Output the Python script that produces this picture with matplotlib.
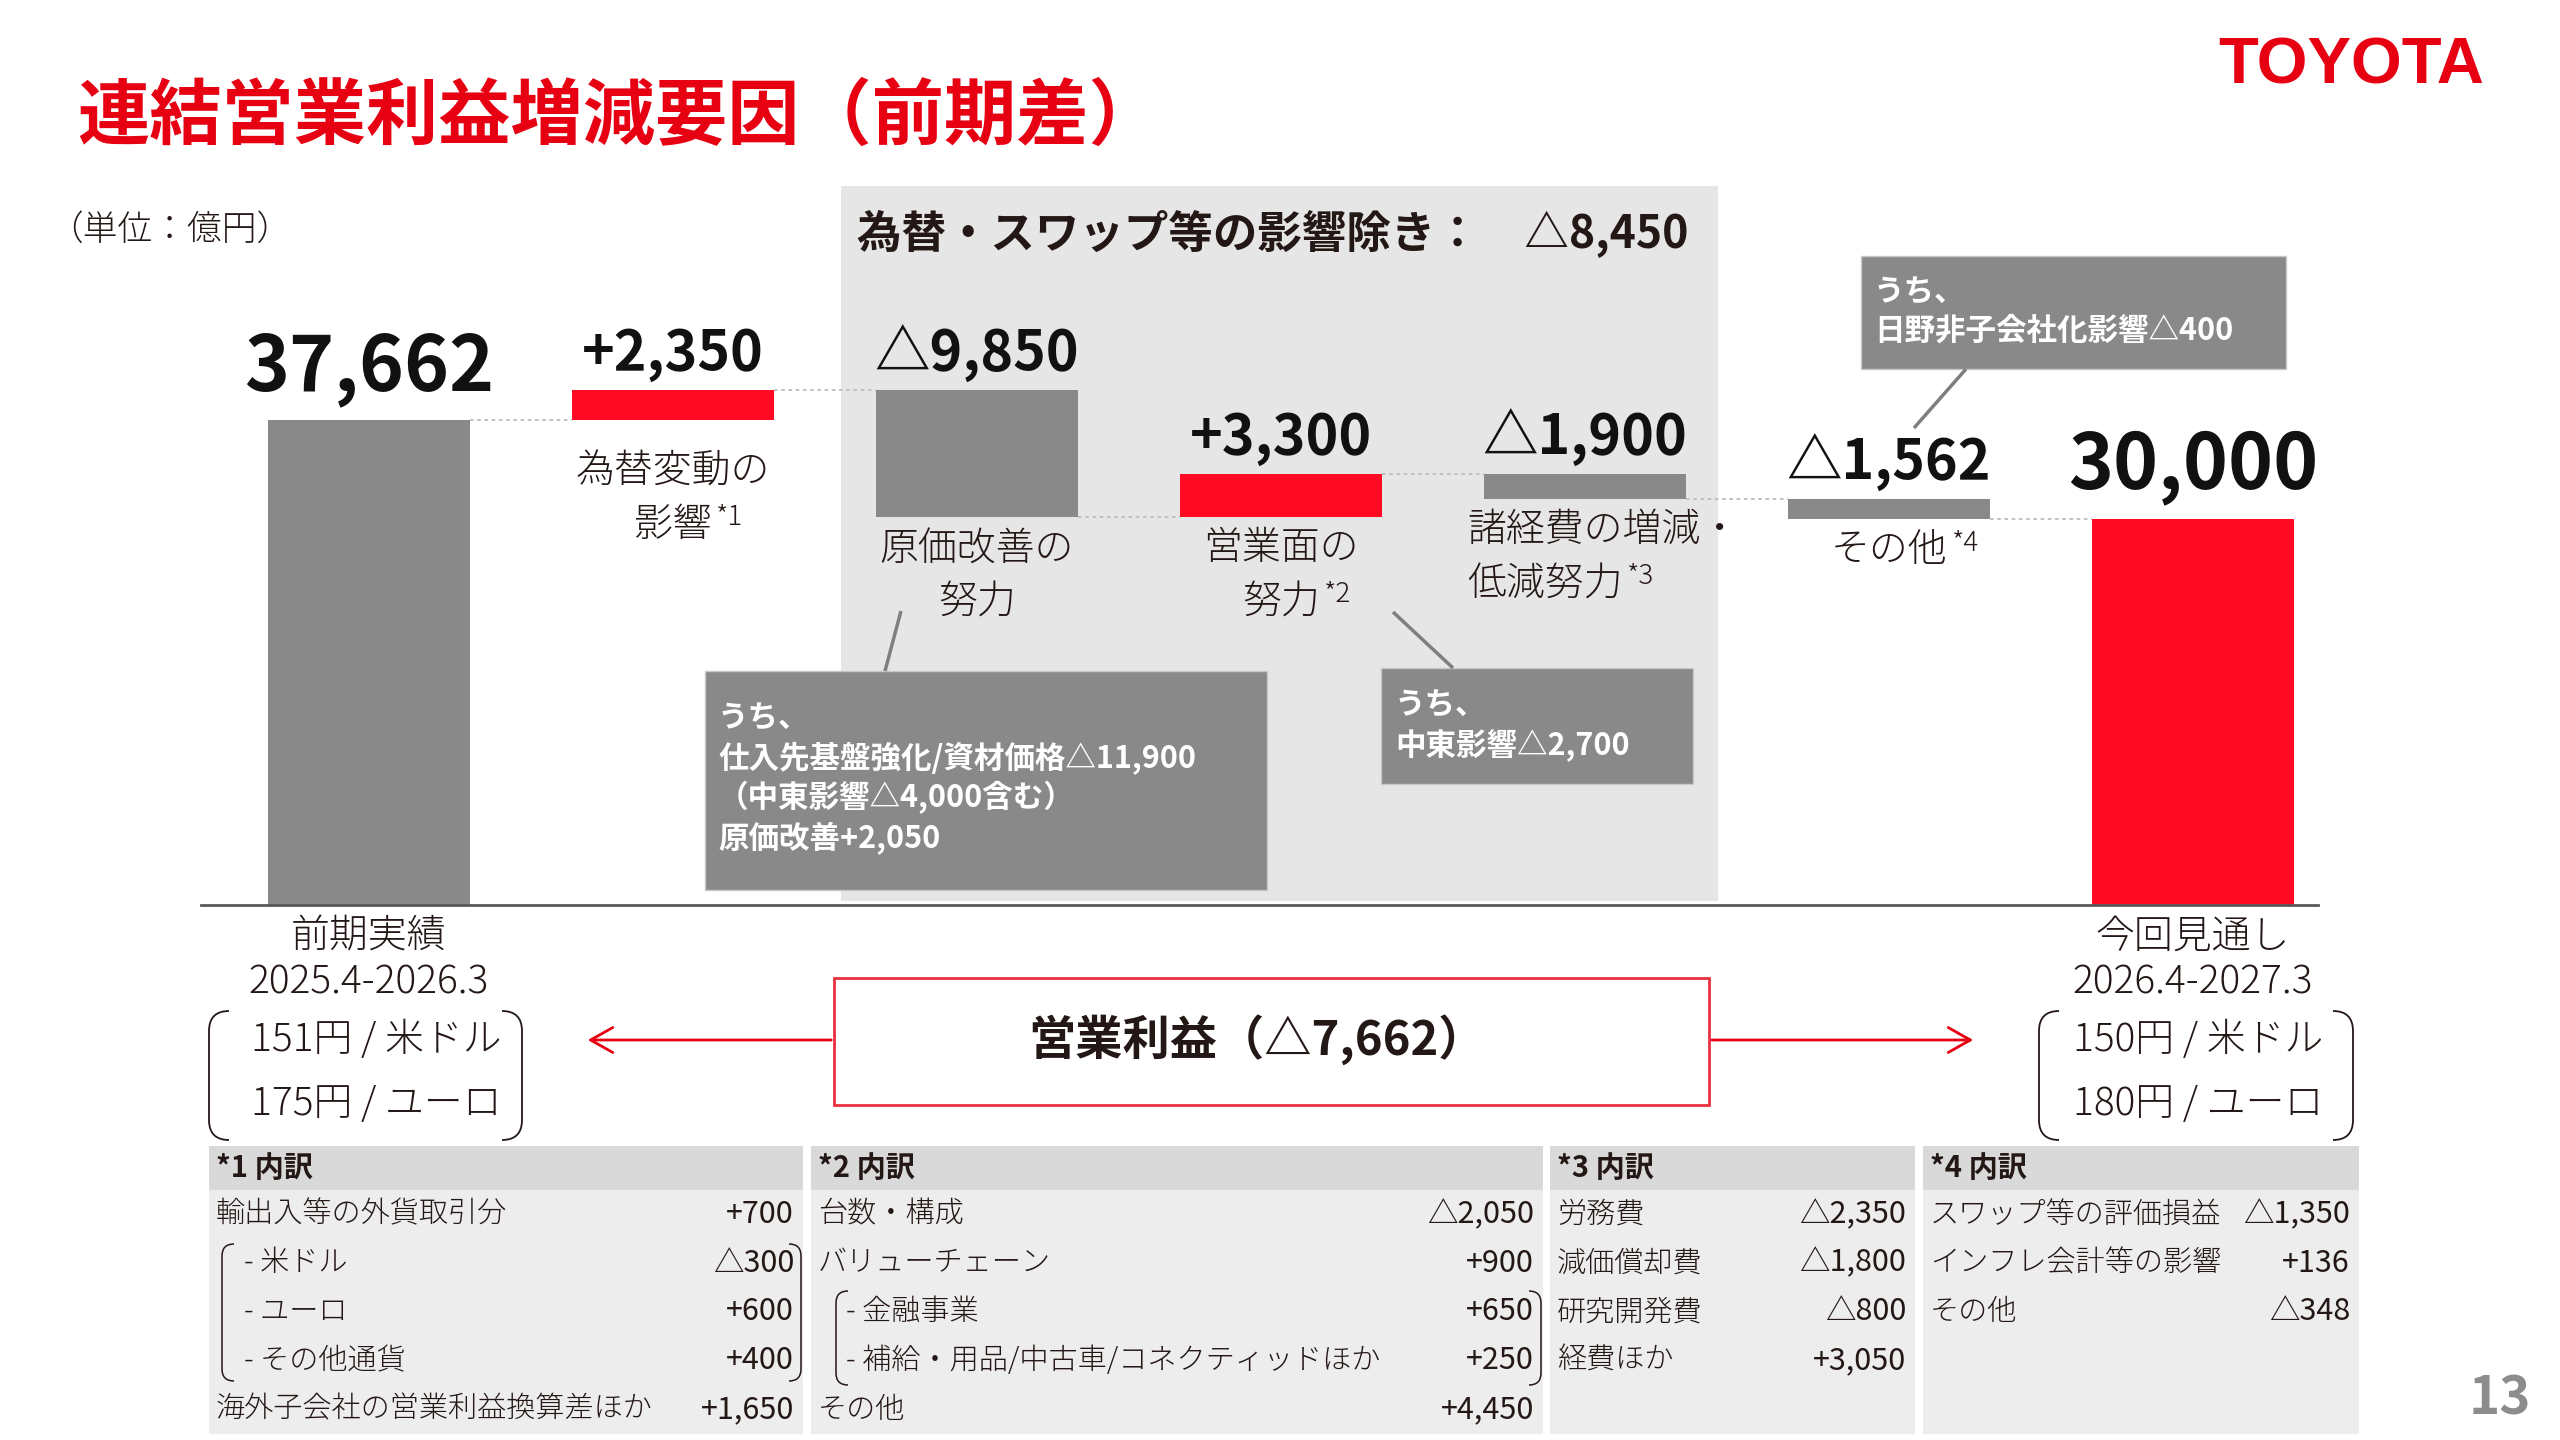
import matplotlib
matplotlib.use('Agg')
import matplotlib.pyplot as plt
from matplotlib.patches import Rectangle, PathPatch
from matplotlib.path import Path

plt.rcParams['font.family'] = ['Noto Sans CJK JP', 'DejaVu Sans']
NUM = ['Liberation Sans Narrow', 'Noto Sans CJK JP', 'DejaVu Sans']

W, H, DPI = 2560, 1440, 100
INK = '#231815'
RED = '#FF0A22'
LOGO_RED = '#E60012'
GRAY = '#898989'

# ---- data ----
start_value = 37662
deltas = [2350, -9850, 3300, -1900, -1562]
end_value = 30000
value_labels = ['37,662', '+2,350', '△9,850', '+3,300', '△1,900', '△1,562', '30,000']
label_line1 = ['前期実績', '為替変動の', '原価改善の', '営業面の', '諸経費の増減・', 'その他', '今回見通し']
label_line2 = ['2025.4-2026.3', '影響', '努力', '努力', '低減努力', '', '2026.4-2027.3']
label_notes = ['', '*1', '', '*2', '*3', '*4', '']

fx_prev = ['151円 / 米ドル', '175円 / ユーロ']
fx_next = ['150円 / 米ドル', '180円 / ユーロ']

note_a = ['うち、', '仕入先基盤強化/資材価格△11,900', '（中東影響△4,000含む）', '原価改善+2,050']
note_b = ['うち、', '中東影響△2,700']
note_c = ['うち、', '日野非子会社化影響△400']

t1_labels = ['輸出入等の外貨取引分', '- 米ドル', '- ユーロ', '- その他通貨', '海外子会社の営業利益換算差ほか']
t1_values = ['+700', '△300', '+600', '+400', '+1,650']
t2_labels = ['台数・構成', 'バリューチェーン', '- 金融事業', '- 補給・用品/中古車/コネクティッドほか', 'その他']
t2_values = ['△2,050', '+900', '+650', '+250', '+4,450']
t3_labels = ['労務費', '減価償却費', '研究開発費', '経費ほか']
t3_values = ['△2,350', '△1,800', '△800', '+3,050']
t4_labels = ['スワップ等の評価損益', 'インフレ会計等の影響', 'その他']
t4_values = ['△1,350', '+136', '△348']


def px(v):
    return v * 72 / DPI


# waterfall geometry from the data
bottoms, heights, levels = [0], [start_value], [start_value]
level = start_value
for d in deltas:
    bottoms.append(min(level, level + d))
    heights.append(abs(d))
    level += d
    levels.append(level)
bottoms.append(0)
heights.append(end_value)
colors = [GRAY] + [RED if d > 0 else GRAY for d in deltas] + [RED]
xs = list(range(len(heights)))

fig = plt.figure(figsize=(W / DPI, H / DPI), dpi=DPI)
bg = fig.add_axes([0, 0, 1, 1])
bg.set_xlim(0, W)
bg.set_ylim(H, 0)
bg.axis('off')
bg.set_zorder(0)

# title, logo, unit
bg.text(77, 118, '連結営業利益増減要因（前期差）', color=LOGO_RED, fontsize=52,
        fontweight='bold', ha='left', va='center')
bg.text(2351, 67, 'TOYOTA', color=LOGO_RED, fontsize=47, fontweight='heavy',
        family=['Liberation Sans', 'DejaVu Sans'], ha='center', va='center')
bg.text(48, 230, '（単位：億円）', color=INK, fontsize=25, fontweight='light',
        ha='left', va='center')
bg.text(2500, 1399, '13', color='#8C8C8C', fontsize=38, fontweight='bold',
        family=NUM, ha='center', va='center')

# shaded region for ex-FX effects
bg.add_patch(Rectangle((841, 186), 877, 715, facecolor='#E6E6E6', edgecolor='none'))
bg.text(857, 233, '為替・スワップ等の影響除き：　△8,450', color=INK, fontsize=32,
        fontweight='bold', ha='left', va='center')


def callout(x0, y0, x1, y1, lines, tx, ty, pitch, leader):
    bg.add_patch(Rectangle((x0, y0), x1 - x0, y1 - y0, facecolor=GRAY,
                           edgecolor='#C8C8C8', lw=1))
    for k, line in enumerate(lines):
        bg.text(tx, ty + k * pitch, line, color='white', fontsize=22,
                fontweight='bold', ha='left', va='center')
    bg.plot(leader[0], leader[1], color='#7F7F7F', lw=2.5, solid_capstyle='butt')


callout(705, 671, 1267, 890, note_a, 718, 718, 40, ([901, 885], [611, 671]))
callout(1381, 668, 1693, 784, note_b, 1395, 705, 40, ([1393, 1453], [612, 668]))
callout(1861, 256, 2286, 369, note_c, 1874, 292, 39, ([1966, 1914], [369, 428]))


def paren_pair(x0, x1, y0, y1, r=16, lw=1.3):
    for side in (0, 1):
        if side == 0:
            verts = [(x0 + r, y0), (x0, y0), (x0, y0 + r), (x0, y1 - r), (x0, y1), (x0 + r, y1)]
        else:
            verts = [(x1 - r, y0), (x1, y0), (x1, y0 + r), (x1, y1 - r), (x1, y1), (x1 - r, y1)]
        codes = [Path.MOVETO, Path.CURVE3, Path.CURVE3, Path.LINETO, Path.CURVE3, Path.CURVE3]
        bg.add_patch(PathPatch(Path(verts, codes), facecolor='none', edgecolor=INK, lw=lw))


# exchange-rate brackets
paren_pair(209, 522, 1011, 1140, r=20)
paren_pair(2039, 2353, 1011, 1140, r=20)
for k in range(2):
    bg.text(376, 1040 + k * 64, fx_prev[k], color=INK, fontsize=28, fontweight='light',
            ha='center', va='center')
    bg.text(2198, 1040 + k * 64, fx_next[k], color=INK, fontsize=28, fontweight='light',
            ha='center', va='center')

# operating income box + arrows
bg.add_patch(Rectangle((834, 978), 875, 127, facecolor='white', edgecolor='#E8303F', lw=2))
bg.text(1257, 1040, '営業利益（△7,662）', color=INK, fontsize=34, fontweight='bold',
        ha='center', va='center')
arrow = dict(arrowstyle='->,head_length=1.6,head_width=0.9', color=LOGO_RED, lw=2)
bg.annotate('', xy=(585, 1040), xytext=(834, 1040), arrowprops=arrow)
bg.annotate('', xy=(1976, 1040), xytext=(1709, 1040), arrowprops=arrow)

# breakdown tables
groups = [(209, 803, '*1 内訳', t1_labels, t1_values),
          (811, 1543, '*2 内訳', t2_labels, t2_values),
          (1550, 1915, '*3 内訳', t3_labels, t3_values),
          (1923, 2359, '*4 内訳', t4_labels, t4_values)]
head_top, head_bot, body_bot, nrows = 1146, 1190, 1434, 5
row_h = (body_bot - head_bot) / nrows
for gx0, gx1, head, labels, values in groups:
    bg.add_patch(Rectangle((gx0, head_top), gx1 - gx0, head_bot - head_top,
                           facecolor='#D9D9D9', edgecolor='none'))
    bg.add_patch(Rectangle((gx0, head_bot), gx1 - gx0, body_bot - head_bot,
                           facecolor='#EDEDED', edgecolor='none'))
    bg.text(gx0 + 7, (head_top + head_bot) / 2, head, color=INK, fontsize=21,
            fontweight='bold', ha='left', va='center')
    for r, (lab, val) in enumerate(zip(labels, values)):
        yc = head_bot + row_h * (r + 0.5)
        indent = 28 if lab.startswith('- ') else 0
        bg.text(gx0 + 7 + indent, yc, lab, color=INK, fontsize=21, fontweight='light',
                ha='left', va='center')
        bg.text(gx1 - 9, yc, val, color=INK, fontsize=22, family=NUM,
                ha='right', va='center')
paren_pair(222, 801, 1244, 1381, r=12, lw=1.1)
paren_pair(836, 1541, 1291, 1385, r=12, lw=1.1)

# ---- waterfall ----
ax = fig.add_axes([201 / W, (H - 905) / H, 2117 / W, 905 / H])
ax.set_zorder(1)
ax.patch.set_alpha(0)
ax.set_xlim(-0.5526, 6.411)
ax.set_ylim(0, 905 / 0.012877)
for s in ('top', 'left', 'right'):
    ax.spines[s].set_visible(False)
ax.spines['bottom'].set_color('#595959')
ax.spines['bottom'].set_linewidth(2)
ax.set_xticks([])
ax.set_yticks([])

bw = 0.665
ax.bar(xs, heights, bottom=bottoms, width=bw, color=colors, zorder=2)
for i in range(len(xs) - 1):
    ax.plot([xs[i] + bw / 2, xs[i + 1] - bw / 2], [levels[i], levels[i]],
            color='#BDBDBD', lw=1.3, ls=(0, (2, 2)), zorder=1)

for i in xs:
    total = i in (0, len(xs) - 1)
    top = bottoms[i] + heights[i]
    ax.annotate(value_labels[i], (i, top), xytext=(0, px(52 if total else 36)),
                textcoords='offset points', ha='center', va='center',
                fontsize=55 if total else 40, fontweight='bold', family=NUM, color='#111111')

    first_off = 52 if i == 1 else 32
    gap = 46 if total else 53
    ha, dx = ('left', -118) if i == 4 else ('center', 0)
    last = ax.annotate(label_line1[i], (i, bottoms[i]), xytext=(px(dx), -px(first_off)),
                       textcoords='offset points', ha=ha, va='center', fontsize=28,
                       fontweight='light', color=INK)
    if label_line2[i]:
        last = ax.annotate(label_line2[i], (i, bottoms[i]),
                           xytext=(px(dx), -px(first_off + gap)),
                           textcoords='offset points', ha=ha, va='center', fontsize=28,
                           fontweight='light', color=INK)
    if label_notes[i]:
        ax.annotate(label_notes[i], (1, 0.7), xycoords=last, xytext=(3, 0),
                    textcoords='offset points', ha='left', va='center', fontsize=20,
                    fontweight='light', color=INK)

fig.savefig('out.png', dpi=DPI)
